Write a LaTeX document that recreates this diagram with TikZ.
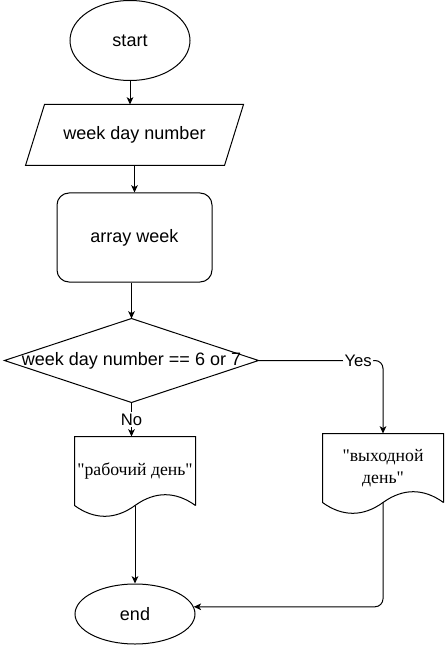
\documentclass[tikz,border=0pt]{standalone}
\usepackage{fontspec}
\setsansfont{Liberation Sans}
\newfontfamily\cyrfont{Liberation Serif}
\usetikzlibrary{arrows.meta,calc,shapes.geometric}

\begin{document}
\begin{tikzpicture}[x=0.75pt,y=-0.75pt,line width=0.75pt,
    >={Stealth[length=5.5pt,width=5pt,inset=1.5pt]},
    every node/.style={font=\sffamily\fontsize{13.5}{16}\selectfont},
    term/.style={ellipse,draw,minimum width=90pt,inner sep=0pt},
    box/.style={rectangle,inner sep=0pt},
    doc/.style={box,minimum width=90pt,minimum height=51pt,align=center,
                font=\cyrfont\fontsize{13.3}{16.5}\selectfont},
    tag/.style={fill=white,inner sep=1pt,font=\sffamily\fontsize{12.5}{14}\selectfont}
]

%------------------------ frame ------------------------
\useasboundingbox (0,0) rectangle (445,645);

\def\slant{19}   % parallelogram offset
\def\wave{14.4}  % document wave

%------------------------ blocks ------------------------
\node[term,minimum height=60pt] (start) at (130,40.5) {start};
\node[box,minimum width=162.75pt,minimum height=45pt] (input) at (134.5,135) {week day number};
\node[box,draw,rounded corners=9pt,minimum width=116.25pt,minimum height=66.75pt] (array) at (134.5,237.5) {array week};
\node[box,minimum width=189.75pt,minimum height=62.25pt] (dec) at (131.5,360.5) {week day number == 6 or 7};
\node[doc] (ldoc) at (135,471) {"рабочий день"};
\node[doc] (rdoc) at (383,468) {"выходной\\день"};
\node[term,minimum height=45pt] (end) at (135,614) {end};

% parallelogram
\draw ($(input.north west)+(\slant,0)$) -- (input.north east)
  -- ($(input.south east)+(-\slant,0)$) -- (input.south west) -- cycle;

% diamond
\draw (dec.north) -- (dec.east) -- (dec.south) -- (dec.west) -- cycle;

% documents with wavy bottom
\foreach \d in {ldoc,rdoc}
  \draw (\d.south east) -- (\d.north east) -- (\d.north west) -- (\d.south west)
    .. controls +(20,\wave) and +(-20,\wave) .. (\d.south)
    .. controls +(20,-\wave) and +(-20,-\wave) .. (\d.south east);

%------------------------ connectors ------------------------
\draw[->] (start) -- (start |- input.north);
\draw[->] (input) -- (input |- array.north);
\draw[->] (dec.north |- array.south) -- (dec.north);
\draw[->] (dec.south) -- (dec.south |- ldoc.north) node[tag,midway] {No};
\draw[->,rounded corners=6pt] (dec.east) -| (rdoc.north) node[tag,pos=0.4] {Yes};
\draw[->] (ldoc.south) -- (end);
\draw[->,rounded corners=6pt] (rdoc.south) |- (end.7);

\end{tikzpicture}
\end{document}
